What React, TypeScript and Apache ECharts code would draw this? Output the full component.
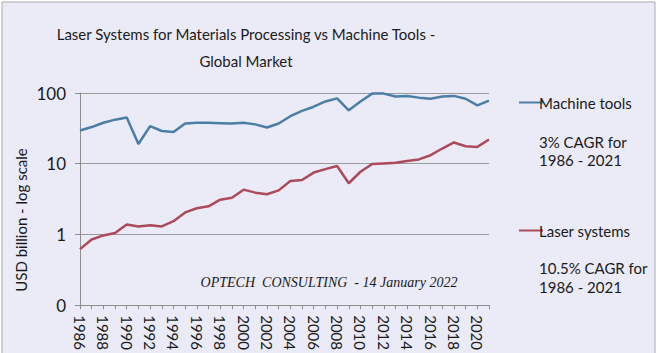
import React, { useEffect, useRef } from "react";
import * as echarts from "echarts";

const years: string[] = [];
for (let y = 1986; y <= 2021; y++) years.push(String(y));

const machineTools = [
  29.5, 33, 38, 42, 45, 19, 34, 29, 28, 37, 38, 38, 37.5, 37, 38, 36, 32.5, 37,
  47, 56, 64, 76, 84, 57, 76, 98, 98, 89, 91, 86, 83, 89, 91, 83, 67, 78,
];

const laserSystems = [
  0.62, 0.85, 0.97, 1.05, 1.38, 1.3, 1.35, 1.3, 1.54, 2.05, 2.35, 2.5, 3.1, 3.3,
  4.3, 3.9, 3.7, 4.2, 5.7, 5.9, 7.5, 8.4, 9.3, 5.3, 7.7, 9.9, 10.1, 10.3, 10.9,
  11.5, 13.2, 16.4, 20, 17.7, 17.3, 22,
];

const yTicks = [0.1, 1, 10, 100];

const BLUE = "#4a7ea6";
const RED = "#ac4a5a";
const FONT = "Lato, sans-serif";

export default function App() {
  const ref = useRef<HTMLDivElement>(null);
  useEffect(() => {
    document.body.style.margin = "0";
    const chart = echarts.init(ref.current!, null, { renderer: "svg" });
    chart.setOption({
      animation: false,
      backgroundColor: "#ffffff",
      graphic: [
        {
          type: "rect",
          z: -10,
          shape: { x: 2, y: 2, width: 653, height: 360 },
          style: { fill: "#ebebf7", stroke: "#a8a8a8", lineWidth: 1 },
        },
        {
          type: "text",
          x: 246,
          y: 34,
          style: {
            text: "Laser Systems for Materials Processing vs Machine Tools -",
            font: `15px ${FONT}`,
            fill: "#1a1a1a",
            align: "center",
            verticalAlign: "middle",
          },
        },
        {
          type: "text",
          x: 246,
          y: 61,
          style: {
            text: "Global Market",
            font: `15px ${FONT}`,
            fill: "#1a1a1a",
            align: "center",
            verticalAlign: "middle",
          },
        },
        {
          type: "text",
          x: 21,
          y: 220,
          rotation: Math.PI / 2,
          style: {
            text: "USD billion - log scale",
            font: `15px ${FONT}`,
            fill: "#1a1a1a",
            align: "center",
            verticalAlign: "middle",
          },
        },
        {
          type: "text",
          x: 539,
          y: 151,
          style: {
            text: "3% CAGR for\n1986 - 2021",
            font: `15px ${FONT}`,
            lineHeight: 18,
            fill: "#1a1a1a",
            verticalAlign: "middle",
          },
        },
        {
          type: "text",
          x: 539,
          y: 277.5,
          style: {
            text: "10.5% CAGR for\n1986 - 2021",
            font: `15px ${FONT}`,
            lineHeight: 19,
            fill: "#1a1a1a",
            verticalAlign: "middle",
          },
        },
        {
          type: "text",
          x: 329,
          y: 282,
          style: {
            text: "OPTECH  CONSULTING  - 14 January 2022",
            font: `italic 14px 'Liberation Serif', 'DejaVu Serif', serif`,
            fill: "#1a1a1a",
            align: "center",
            verticalAlign: "middle",
          },
        },
      ],
      legend: [
        {
          data: ["Machine tools"],
          left: 514,
          top: 90,
          icon: "rect",
          itemWidth: 24,
          itemHeight: 2,
          itemGap: 0,
          textStyle: { fontFamily: FONT, fontSize: 15, color: "#1a1a1a", padding: [0, 0, 0, -9] },
        },
        {
          data: ["Laser systems"],
          left: 514,
          top: 218,
          icon: "rect",
          itemWidth: 24,
          itemHeight: 2,
          itemGap: 0,
          textStyle: { fontFamily: FONT, fontSize: 15, color: "#1a1a1a", padding: [0, 0, 0, -9] },
        },
      ],
      grid: { left: 80, right: 171, top: 93, bottom: 46, containLabel: false },
      xAxis: {
        type: "category",
        data: years,
        boundaryGap: false,
        axisLine: { lineStyle: { color: "#8c8c8c", width: 1 } },
        axisTick: { show: true, interval: 0, length: 4, lineStyle: { color: "#8c8c8c" } },
        axisLabel: {
          interval: 1,
          rotate: -90,
          fontFamily: FONT,
          fontSize: 15,
          color: "#1a1a1a",
          margin: 10,
        },
        splitLine: { show: false },
      },
      yAxis: {
        type: "log",
        logBase: 10,
        min: yTicks[0],
        max: yTicks[yTicks.length - 1],
        axisLine: { show: true, lineStyle: { color: "#8c8c8c", width: 1 } },
        axisTick: { show: true, length: 5, lineStyle: { color: "#8c8c8c" } },
        axisLabel: {
          fontFamily: FONT,
          fontSize: 17,
          color: "#1a1a1a",
          margin: 14,
          formatter: (v: number) => (v < 1 ? "0" : String(Math.round(v))),
        },
        splitLine: { show: true, lineStyle: { color: "#9a9a9a", width: 1 } },
      },
      series: [
        {
          name: "Machine tools",
          type: "line",
          data: machineTools,
          showSymbol: false,
          symbol: "none",
          color: BLUE,
          lineStyle: { color: BLUE, width: 2.5 },
        },
        {
          name: "Laser systems",
          type: "line",
          data: laserSystems,
          showSymbol: false,
          symbol: "none",
          color: RED,
          lineStyle: { color: RED, width: 2.5 },
        },
      ],
    });
    return () => chart.dispose();
  }, []);
  return <div ref={ref} style={{ width: 660, height: 353 }} />;
}
